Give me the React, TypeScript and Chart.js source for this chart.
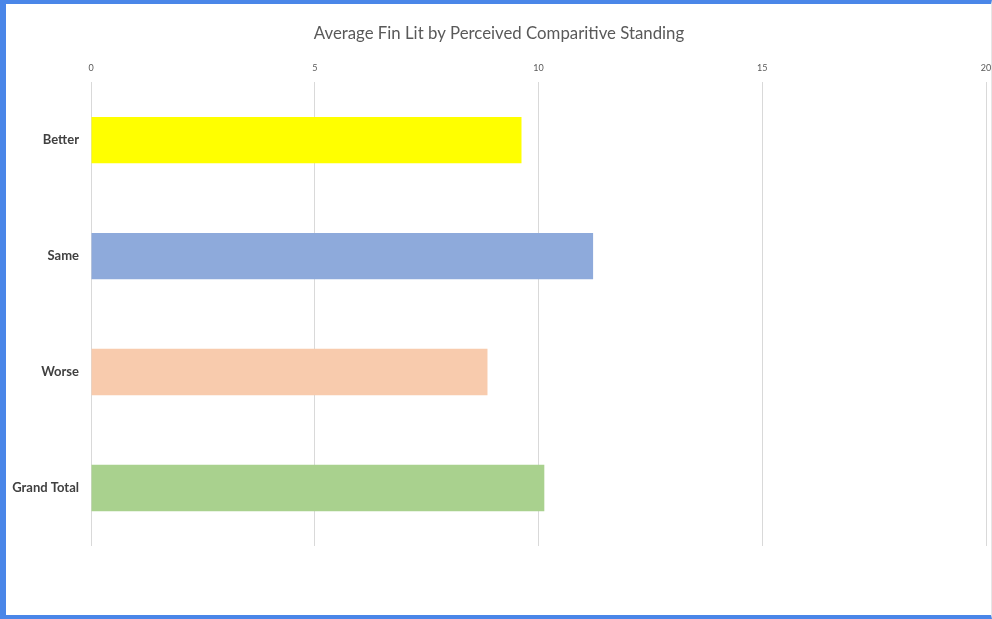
import React, { useEffect, useRef } from "react";
import { Chart, registerables } from "chart.js";

Chart.register(...registerables);

const chartTitle = "Average Fin Lit by Perceived Comparitive Standing";
const categories = ["Better", "Same", "Worse", "Grand Total"];
const averageFinLit = [9.62, 11.22, 8.86, 10.13];
const barColors = ["#FFFF00", "#8EAADB", "#F8CBAD", "#A9D18E"];
const xTickMin = 0;
const xTickMax = 20;
const xTickStep = 5;

export default function App() {
  const canvasRef = useRef<HTMLCanvasElement | null>(null);

  useEffect(() => {
    const canvas = canvasRef.current;
    if (!canvas) return;
    const chart = new Chart(canvas, {
      type: "bar",
      data: {
        labels: categories,
        datasets: [
          {
            data: averageFinLit,
            backgroundColor: barColors,
            borderWidth: 0,
            categoryPercentage: 1,
            barPercentage: 0.4,
          },
        ],
      },
      options: {
        indexAxis: "y",
        animation: false,
        responsive: false,
        maintainAspectRatio: false,
        layout: { padding: { top: 24, left: 12, right: 6, bottom: 73 } },
        plugins: {
          legend: { display: false },
          tooltip: { enabled: false },
          title: {
            display: true,
            text: chartTitle,
            color: "#595959",
            font: { family: "Lato", size: 16.8, weight: "normal" },
            padding: { top: 0, bottom: 0 },
          },
        },
        scales: {
          x: {
            position: "top",
            min: xTickMin,
            max: xTickMax,
            ticks: {
              stepSize: xTickStep,
              color: "#595959",
              font: { family: "Lato", size: 9 },
              padding: 9,
            },
            grid: { color: "#d9d9d9", lineWidth: 1, drawTicks: false },
            border: { display: false },
            afterFit: (scale: any) => {
              scale.height = 38;
              scale.paddingRight = 0;
              scale.paddingLeft = 0;
            },
          },
          y: {
            ticks: {
              color: "#404040",
              font: { family: "Lato", size: 13, weight: "bold" },
              padding: 12,
            },
            grid: { display: false, drawTicks: false },
            border: { display: false },
            afterFit: (scale: any) => {
              scale.width = 79;
            },
          },
        },
      },
    });
    return () => chart.destroy();
  }, []);

  return (
    <div
      style={{
        position: "absolute",
        left: 0,
        top: 0,
        width: 992,
        height: 619,
        background: "#ffffff",
        overflow: "hidden",
      }}
    >
      <canvas ref={canvasRef} width={992} height={619} style={{ position: "absolute", left: 0, top: 0 }} />
      <div
        style={{
          position: "absolute",
          left: 0,
          top: 0,
          width: 992,
          height: 619,
          boxSizing: "border-box",
          borderTop: "4px solid #4A86E8",
          borderLeft: "6px solid #4A86E8",
          borderBottom: "4px solid #4A86E8",
          borderRight: "1px solid #e6e6e6",
          pointerEvents: "none",
        }}
      />
    </div>
  );
}
